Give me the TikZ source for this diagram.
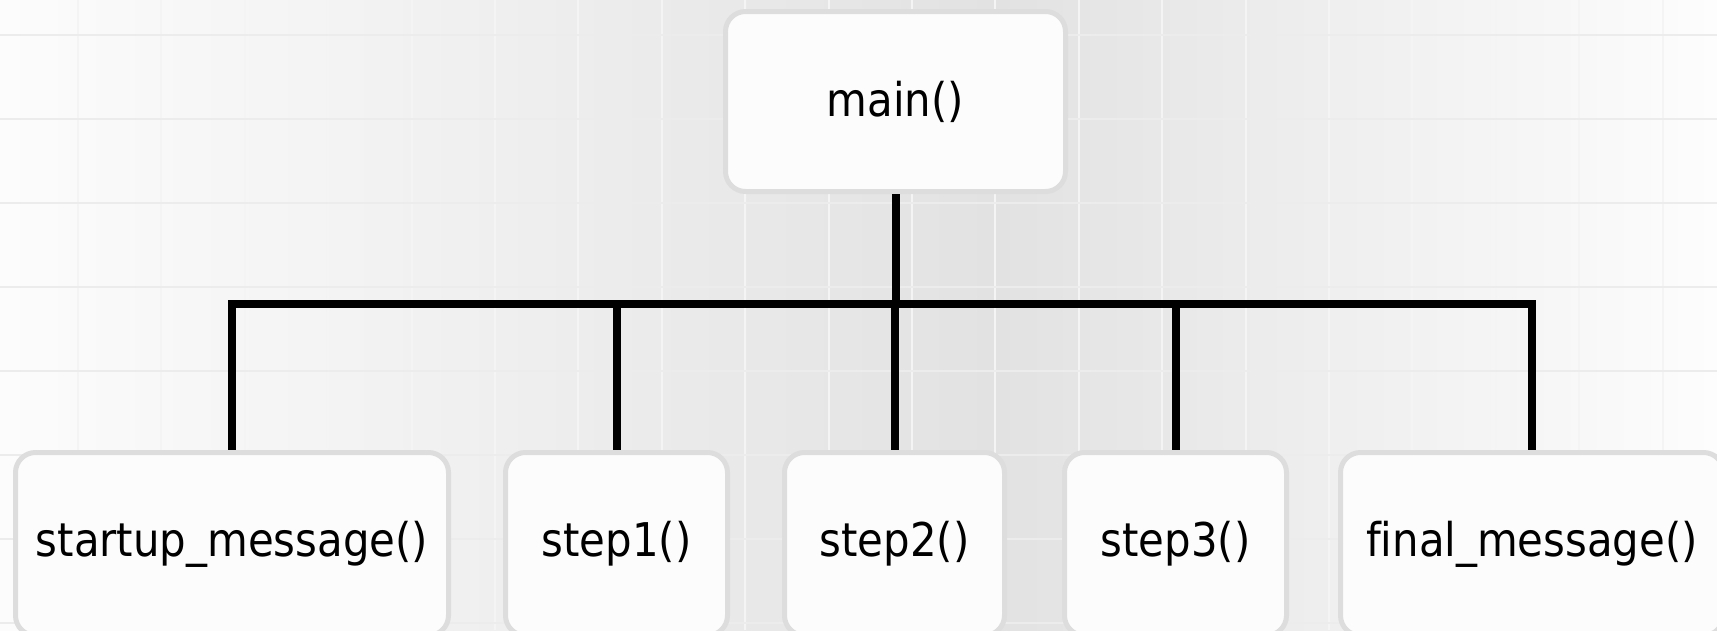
\documentclass[tikz,border=0pt]{standalone}
\usepackage{fontspec}
\newfontfamily\boxfont{DejaVu Sans}[FakeStretch=0.9,Ligatures=NoCommon]
\definecolor{bgL}{HTML}{FCFCFC}
\definecolor{bgM}{HTML}{E2E2E2}
\definecolor{bgR}{HTML}{FDFDFD}
\definecolor{gridv}{HTML}{F4F4F4}
\definecolor{gridh}{HTML}{ECECEC}
\definecolor{boxborder}{HTML}{DDDDDD}
\definecolor{boxfill}{HTML}{FCFCFC}
\pgfdeclarehorizontalshading{bgshade}{100bp}{color(0bp)=(bgL); color(25bp)=(bgL); color(54bp)=(bgM); color(75bp)=(bgR); color(100bp)=(bgR)}
\tikzset{
  gridvline/.style={draw=gridv, line width=2pt},
  gridhline/.style={draw=gridh, line width=2pt},
  fbox/.style={draw=boxborder, line width=5pt, fill=boxfill, rounded corners=20pt,
    font=\boxfont\fontsize{46.5}{52}\selectfont, text=black, inner sep=0pt},
  conn/.style={draw=black, line width=8pt},
}
\begin{document}
\begin{tikzpicture}[x=1pt,y=-1pt]
\useasboundingbox (0,0) rectangle (1717,630);
\shade[shading=bgshade] (0,0) rectangle (1717,630);
\begin{scope}
\clip (0,0) rectangle (1717,630);
\foreach \i in {-1,...,20} \draw[gridvline] ({78+83.4*\i},0) -- ++(0,630);
\foreach \j in {0,...,7} \draw[gridhline] (0,{35+84*\j}) -- ++(1717,0);

\node[fbox, minimum width=340pt, minimum height=180pt] (main) at (895.5,101.5) {main()};
\node[fbox, minimum width=433pt, minimum height=183pt] (startup) at (232,544) {startup\_message()};
\node[fbox, minimum width=222pt, minimum height=183pt] (step1) at (616.5,544) {step1()};
\node[fbox, minimum width=220pt, minimum height=183pt] (step2) at (894.5,544) {step2()};
\node[fbox, minimum width=222pt, minimum height=183pt] (step3) at (1175.5,544) {step3()};
\node[fbox, minimum width=383pt, minimum height=183pt] (final) at (1532,544) {final\_message()};

\coordinate (bar) at (895,304);
\draw[conn] (main.south) -- (main.south |- bar);
\foreach \n in {startup,step1,step2,step3,final}
  \draw[conn] (main.south |- bar) -| (\n.north);
\end{scope}
\end{tikzpicture}
\end{document}
